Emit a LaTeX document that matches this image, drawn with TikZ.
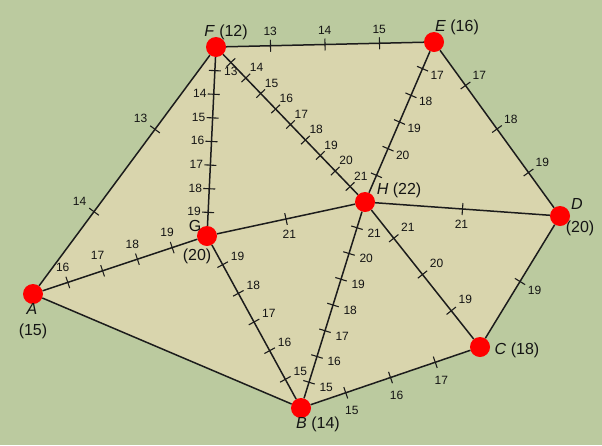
\documentclass[tikz,border=0pt]{standalone}
\usepackage{fontspec}
\setmainfont{Liberation Sans}
\usetikzlibrary{calc}
\definecolor{bgGreen}{HTML}{BBCA9F}
\definecolor{fillBeige}{HTML}{D9D5AD}
\definecolor{lineDark}{HTML}{1C1C1C}
% tick with label: P Q vP vQ k angle dist
\newcommand\tk[7]{%
  \coordinate (tt) at ($(#1)!{(#5-#3)/(#4-#3)}!(#2)$);
  \draw[tickln] ($(tt)!6pt!90:(#2)$) -- ($(tt)!6pt!-90:(#2)$);
  \node[tl] at ($(tt)!#7!#6:(#2)$) {#5};}
% tick without label
\newcommand\tkonly[5]{%
  \coordinate (tt) at ($(#1)!{(#5-#3)/(#4-#3)}!(#2)$);
  \draw[tickln] ($(tt)!6pt!90:(#2)$) -- ($(tt)!6pt!-90:(#2)$);}
\begin{document}
\begin{tikzpicture}[x=1pt,y=-1pt,
  edge/.style={draw=lineDark,line width=1.5pt},
  tickln/.style={draw=lineDark,line width=1.1pt},
  tl/.style={font=\fontsize{12}{14}\selectfont,inner sep=0pt,text=black!92},
  vl/.style={font=\fontsize{16}{18}\selectfont,inner sep=0pt,text=black!92},
  dot/.style={circle,fill=red,minimum size=20pt,inner sep=0pt}]
\useasboundingbox (0,0) rectangle (602,445);
\fill[bgGreen] (0,0) rectangle (602,445);
% point positions
\coordinate (A) at (33,294);
\coordinate (B) at (301,408);
\coordinate (C) at (480,347);
\coordinate (D) at (560,216);
\coordinate (E) at (434,42);
\coordinate (F) at (216,47);
\coordinate (G) at (207,236);
\coordinate (H) at (365,202);
% region
\fill[fillBeige] (A) -- (F) -- (E) -- (D) -- (C) -- (B) -- cycle;
% dots
\foreach \p in {A,B,C,D,E,F,G,H} {\node[dot] (n\p) at (\p) {};}
% edges
\draw[edge] (nA) -- (nF);
\draw[edge] (nF) -- (nE);
\draw[edge] (nE) -- (nD);
\draw[edge] (nD) -- (nC);
\draw[edge] (nC) -- (nB);
\draw[edge] (nB) -- (nA);
\draw[edge] (nF) -- (nG);
\draw[edge] (nF) -- (nH);
\draw[edge] (nE) -- (nH);
\draw[edge] (nG) -- (nH);
\draw[edge] (nH) -- (nD);
\draw[edge] (nH) -- (nC);
\draw[edge] (nH) -- (nB);
\draw[edge] (nG) -- (nB);
\draw[edge] (nA) -- (nG);
% ticks
\foreach \k in {13,14,15} {\tk{F}{E}{12}{16}{\k}{90}{14pt}}
\foreach \k in {17,18,19} {\tk{E}{D}{16}{20}{\k}{90}{17pt}}
\tk{D}{C}{20}{18}{19}{90}{17pt}
\foreach \k in {17,16,15} {\tk{C}{B}{18}{14}{\k}{90}{19pt}}
\foreach \k in {14,13} {\tk{A}{F}{15}{12}{\k}{90}{18pt}}
\tk{F}{G}{12}{20}{13}{90}{16pt}
\foreach \k in {14,...,19} {\tk{F}{G}{12}{20}{\k}{-90}{14pt}}
\tkonly{F}{H}{12}{22}{13}
\foreach \k in {14,...,21} {\tk{F}{H}{12}{22}{\k}{90}{15pt}}
\foreach \k in {17,...,20} {\tk{E}{H}{16}{22}{\k}{90}{16pt}}
\tkonly{E}{H}{16}{22}{21}
\tk{G}{H}{20}{22}{21}{-90}{16pt}
\tk{H}{D}{22}{20}{21}{-90}{15pt}
\foreach \k in {21,20,19,18,17,16,15} {\tk{H}{B}{22}{14}{\k}{90}{18pt}}
\foreach \k in {21,20,19} {\tk{H}{C}{22}{18}{\k}{90}{18pt}}
\foreach \k in {19,18,17,16,15} {\tk{G}{B}{20}{14}{\k}{90}{17pt}}
\foreach \k in {16,17,18,19} {\tk{A}{G}{15}{20}{\k}{90}{16pt}}
% point labels
\node[vl] (lF) at (226,32) {\textit{F} (12)};
\node[vl] (lE) at (457,27) {\textit{E} (16)};
\node[vl] (lD) at (577,204) {\textit{D}};
\node[vl] (lD2) at (580,228) {(20)};
\node[vl] (lC) at (517,350) {\textit{C} (18)};
\node[vl] (lB) at (318,424) {\textit{B} (14)};
\node[vl] (lA) at (32,309) {\textit{A}};
\node[vl] (lA2) at (33,331) {(15)};
\node[vl] (lG) at (195,226) {G};
\node[vl] (lG2) at (197,256) {(20)};
\node[vl] (lH) at (399,190) {\textit{H} (22)};
\end{tikzpicture}
\end{document}
